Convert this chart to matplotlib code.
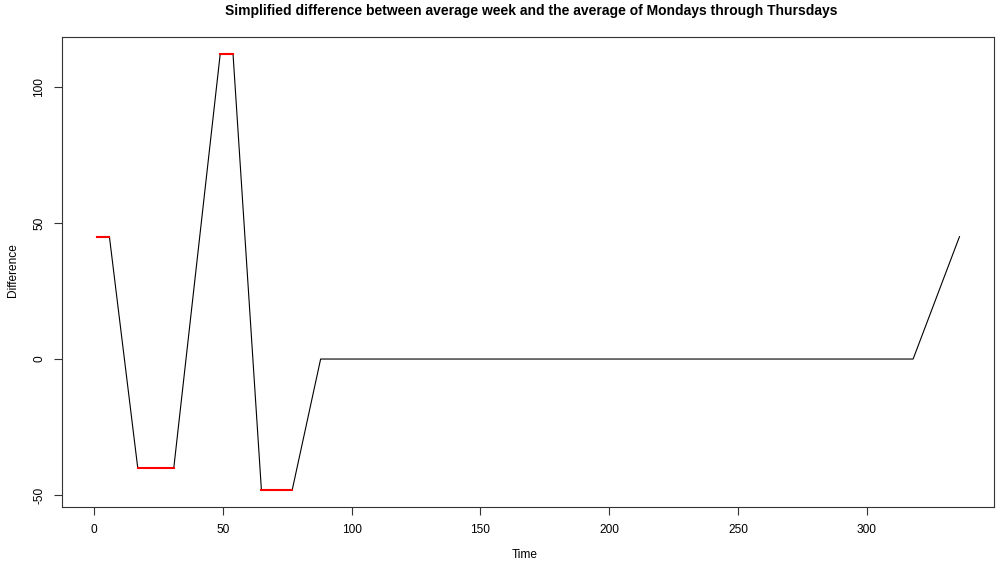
import matplotlib
matplotlib.use("Agg")
import matplotlib.pyplot as plt

plt.rcParams['font.family'] = ['Liberation Sans', 'DejaVu Sans']

# vertices of the simplified difference series (time in half-hour slots)
time = [1, 6, 17, 31, 49, 54, 65, 77, 88, 318, 336]
diff = [45, 45, -40, -40, 112, 112, -48, -48, 0, 0, 45]

# flat stretches highlighted in red: start, end, level
seg_start = [1, 17, 49, 65]
seg_end = [6, 31, 54, 77]
seg_level = [45, -40, 112, -48]

x_ticks = [0, 50, 100, 150, 200, 250, 300]
y_ticks = [-50, 0, 50, 100]

W, H = 1000, 564
fig = plt.figure(figsize=(W / 100, H / 100), dpi=100)
ax = fig.add_axes([62 / W, (H - 507) / H, (994 - 62) / W, (507 - 37) / H])

ax.plot(time, diff, color='black', lw=0.8)
for s, e, lv in zip(seg_start, seg_end, seg_level):
    ax.plot([s, e], [lv, lv], color='red', lw=1.5)

ax.set_xlim(-12.4, 349.4)
ax.set_ylim(-54.4, 118.4)
ax.set_xticks(x_ticks)
ax.set_yticks(y_ticks)
ax.set_xticklabels([str(v) for v in x_ticks])
ax.set_yticklabels([str(v) for v in y_ticks], rotation=90, va='center')
ax.tick_params(length=5.5, width=0.8, labelsize=8.6, pad=6.5, color='#333333')
for sp in ax.spines.values():
    sp.set_linewidth(0.8)
    sp.set_color('#333333')

fig.text(525 / W, 1 - 555 / H, 'Time', ha='center', va='center', fontsize=8.6)
fig.text(13 / W, 1 - 270 / H, 'Difference', ha='center', va='center',
         rotation=90, fontsize=8.6)
fig.text(531 / W, 1 - 11 / H,
         'Simplified difference between average week and the average of Mondays through Thursdays',
         ha='center', va='center', fontsize=10, fontweight='bold')

fig.savefig('out.png', dpi=100)
